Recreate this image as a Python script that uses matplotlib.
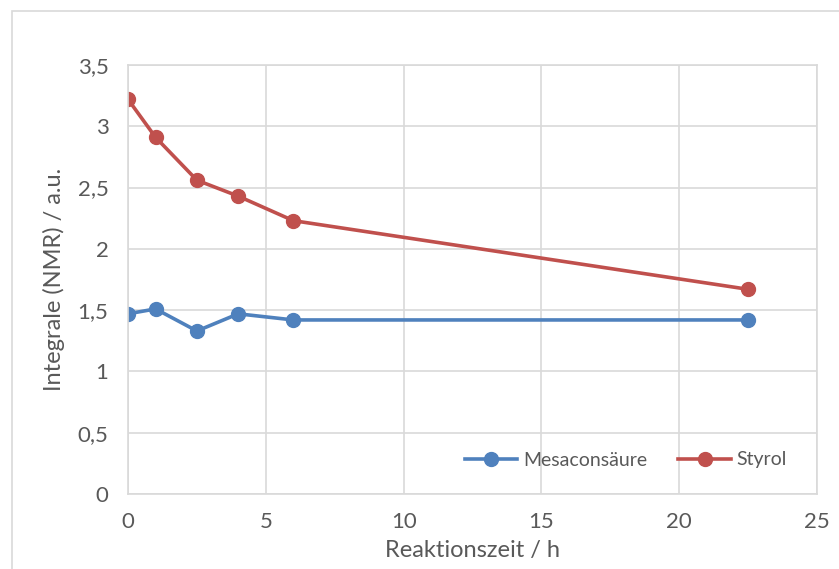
import numpy as np
import matplotlib
matplotlib.use('Agg')
import matplotlib.pyplot as plt
import matplotlib.ticker as ticker
from matplotlib.patches import Rectangle

plt.rcParams['font.family'] = ['Lato', 'DejaVu Sans']

# Daten
zeit = [0, 1, 2.5, 4, 6, 22.5]
mesaconsaeure = [1.47, 1.51, 1.33, 1.47, 1.42, 1.42]
styrol = [3.22, 2.91, 2.56, 2.43, 2.23, 1.67]

x_ticks = [0, 5, 10, 15, 20, 25]
y_ticks = [0, 0.5, 1, 1.5, 2, 2.5, 3, 3.5]

text_color = '#595959'
grid_color = '#D9D9D9'

fig = plt.figure(figsize=(8.39, 5.69), dpi=100, facecolor='w')
ax = fig.add_axes([128 / 839, 75 / 569, 689 / 839, 429 / 569])

# Rahmen des Diagramms
fig.patches.append(Rectangle((12 / 839, -0.1), 1.0, (569 - 11) / 569 + 0.1,
                             transform=fig.transFigure, fill=False,
                             edgecolor=grid_color, linewidth=1.2))

ax.plot(zeit, mesaconsaeure, '-o', color='#4F81BD', linewidth=2.6, markersize=10,
        label='Mesaconsäure')
ax.plot(zeit, styrol, '-o', color='#C0504D', linewidth=2.6, markersize=10,
        label='Styrol')

ax.set_xlim(0, 25)
ax.set_ylim(0, 3.5)
ax.set_xticks(x_ticks)
ax.set_yticks(y_ticks)
ax.yaxis.set_major_formatter(ticker.FuncFormatter(lambda v, p: f'{v:g}'.replace('.', ',')))
ax.tick_params(length=0, labelsize=16, labelcolor=text_color)
ax.tick_params(axis='x', pad=13)
ax.tick_params(axis='y', pad=14)

ax.grid(True, color=grid_color, linewidth=1.2)
ax.set_axisbelow(True)
for s in ax.spines.values():
    s.set_color(grid_color)
    s.set_linewidth(1.2)

ax.set_xlabel('Reaktionszeit / h', fontsize=17, color=text_color)
ax.set_ylabel('Integrale (NMR) / a.u.', fontsize=17, color=text_color)
ax.xaxis.set_label_coords(0.5, (494 - 540) / 429)
ax.yaxis.set_label_coords((65 - 128) / 689, 0.5)

ax.legend(loc='center left', ncol=2, frameon=False, fontsize=14, labelcolor=text_color,
          handlelength=2.7, handletextpad=0.3, columnspacing=1.6,
          bbox_to_anchor=((457 - 128) / 689, (494 - 460) / 429), borderaxespad=0)

fig.savefig('out.png', dpi=100)
